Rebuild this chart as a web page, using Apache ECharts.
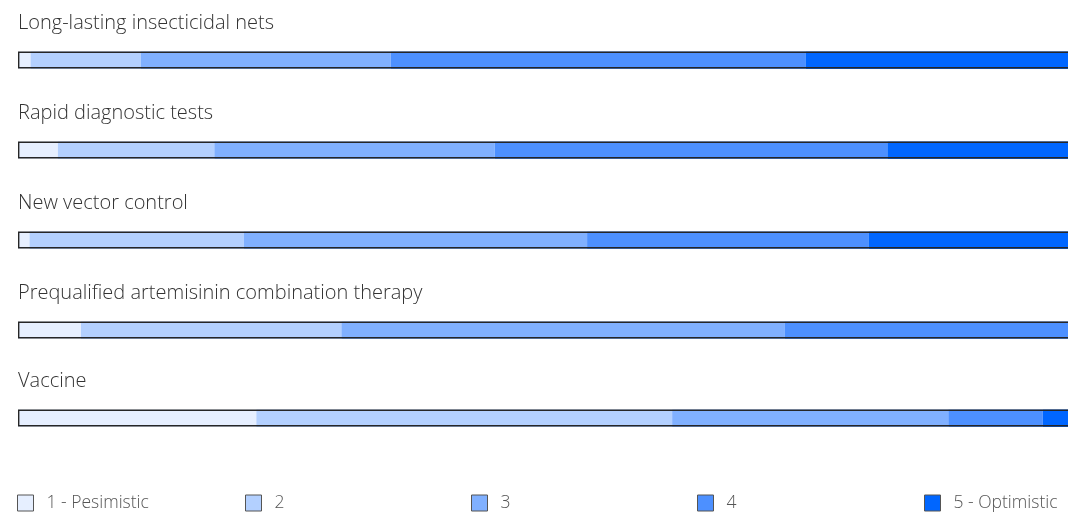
<!DOCTYPE html>
<html>
<head>
<meta charset="utf-8">
<script src="https://cdn.jsdelivr.net/npm/echarts@6/dist/echarts.min.js"></script>
<style>html,body{margin:0;padding:0;background:#fff}#c{width:1068px;height:518px}</style>
</head>
<body>
<div id="c"></div>
<script>
const categories = [
  'Long-lasting insecticidal nets',
  'Rapid diagnostic tests',
  'New vector control',
  'Prequalified artemisinin combination therapy',
  'Vaccine'
];
const levels = ['1 - Pesimistic', '2', '3', '4', '5 - Optimistic'];
const level1 = [1.2, 3.8, 1.1, 6.0, 22.7];
const level2 = [10.5, 14.9, 20.4, 24.8, 39.6];
const level3 = [23.8, 26.7, 32.7, 42.2, 26.3];
const level4 = [39.5, 37.4, 26.8, 27.0, 9.0];
const level5 = [25.0, 17.2, 19.0, 0.0, 2.4];
const colors = ['#e6efff', '#b3d0ff', '#80b0ff', '#4d90ff', '#0066ff'];

const values = [level1, level2, level3, level4, level5];
const barTops = [51, 141, 231, 321, 409];
const font = "'Open Sans', 'Noto Sans', sans-serif";

const grid = [], xAxis = [], yAxis = [], series = [], title = [], legend = [];
categories.forEach((cat, i) => {
  grid.push({left: 18, right: 0, top: barTops[i], height: 18,
    containLabel: false, outerBoundsMode: 'none'});
  xAxis.push({type: 'value', gridIndex: i, min: 0, max: 100, show: false});
  yAxis.push({type: 'category', gridIndex: i, data: [cat], show: false});
  title.push({text: cat, left: 13, top: barTops[i] - 43,
    textStyle: {fontFamily: font, fontWeight: 300, fontSize: 20, color: '#333'}});
  let total = 0;
  levels.forEach((lv, k) => {
    total += values[k][i];
    series.push({
      type: 'bar', name: lv, xAxisIndex: i, yAxisIndex: i, stack: 's' + i,
      data: [values[k][i]], barWidth: 18, itemStyle: {color: colors[k]},
      silent: true
    });
  });
  // outline frame: runs past the right edge of the view, as in the original (cut off there)
  series.push({
    type: 'bar', name: 'outline', xAxisIndex: i, yAxisIndex: i,
    data: [total * 1.02], barWidth: 17, barGap: '-100%', z: 5, clip: false,
    itemStyle: {color: 'rgba(0,0,0,0)', borderColor: '#262626', borderWidth: 1.4},
    silent: true
  });
});
const legendLefts = [12, 240, 466, 692, 919];
levels.forEach((lv, k) => {
  legend.push({
    data: [lv], left: legendLefts[k], top: 489, itemWidth: 16, itemHeight: 16,
    icon: 'rect', itemGap: 10,
    itemStyle: {borderColor: '#555', borderWidth: 1},
    textStyle: {fontFamily: font, fontWeight: 300, fontSize: 17.5, color: '#555', padding: [0, 0, 0, 8]},
    selectedMode: false
  });
});

const chart = echarts.init(document.getElementById('c'), null, {renderer: 'canvas'});
chart.setOption({
  animation: false,
  color: colors,
  title, grid, xAxis, yAxis, series, legend
});
</script>
</body>
</html>
